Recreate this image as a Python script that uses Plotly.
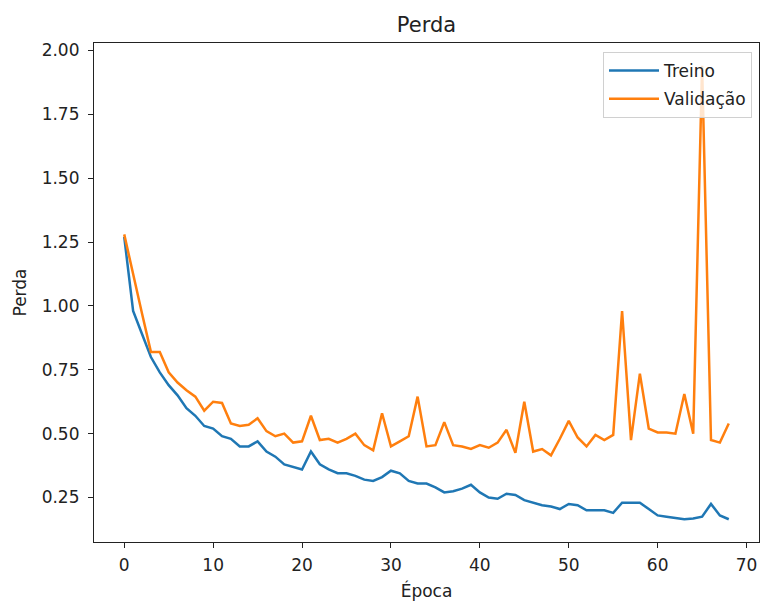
import plotly.graph_objects as go

epocas = list(range(69))
treino = [1.27, 0.98, 0.89, 0.80, 0.74, 0.69, 0.65, 0.60, 0.57, 0.53,
          0.52, 0.49, 0.48, 0.45, 0.45, 0.47, 0.43, 0.41, 0.38, 0.37,
          0.36, 0.43, 0.38, 0.36, 0.345, 0.345, 0.335, 0.32, 0.315, 0.33,
          0.355, 0.345, 0.315, 0.305, 0.305, 0.29, 0.27, 0.275, 0.285, 0.30,
          0.27, 0.25, 0.245, 0.265, 0.26, 0.24, 0.23, 0.22, 0.215, 0.205,
          0.225, 0.22, 0.20, 0.20, 0.20, 0.19, 0.23, 0.23, 0.23, 0.205,
          0.18, 0.175, 0.17, 0.165, 0.168, 0.175, 0.225, 0.18, 0.165]
validacao = [1.28, 1.12, 0.97, 0.82, 0.82, 0.74, 0.70, 0.67, 0.645, 0.59,
             0.625, 0.62, 0.54, 0.53, 0.535, 0.56, 0.51, 0.49, 0.50, 0.465,
             0.47, 0.57, 0.475, 0.48, 0.465, 0.48, 0.50, 0.455, 0.435, 0.58,
             0.45, 0.47, 0.49, 0.645, 0.45, 0.455, 0.545, 0.455, 0.45, 0.44,
             0.455, 0.445, 0.465, 0.515, 0.425, 0.625, 0.43, 0.44, 0.415, 0.48,
             0.55, 0.485, 0.45, 0.495, 0.475, 0.495, 0.98, 0.475, 0.735, 0.52,
             0.505, 0.505, 0.50, 0.655, 0.50, 1.94, 0.475, 0.465, 0.54]

font = "DejaVu Sans"
W, H = 760, 601
fig = go.Figure()
fig.add_trace(go.Scatter(x=epocas, y=treino, mode="lines", name="Treino",
                         legendgroup="a", line=dict(color="#1f77b4", width=2.5)))
fig.add_trace(go.Scatter(x=epocas, y=validacao, mode="lines", name="Validação",
                         legendgroup="b", line=dict(color="#ff7f0e", width=2.5)))

axis_common = dict(showline=True, linecolor="#222222", linewidth=1.2, mirror=True,
                   showgrid=False, zeroline=False, ticks="outside", ticklen=5,
                   tickwidth=1.2, tickcolor="#222222", automargin=False,
                   tickfont=dict(family=font, size=17, color="#222222"))
fig.update_layout(
    width=W, height=H,
    margin=dict(l=94, r=1, t=43, b=59),
    paper_bgcolor="white", plot_bgcolor="white",
    font=dict(family=font, size=17, color="#222222"),
    title=dict(text="Perda", x=0.5, xref="paper", xanchor="center",
               y=1 - 25 / H, yref="container", yanchor="middle",
               font=dict(family=font, size=21, color="#222222")),
    xaxis=dict(range=[-3.4, 71.4], dtick=10, tick0=0, ticklabelstandoff=2,
               title=dict(text="Época", standoff=14, font=dict(family=font, size=17)),
               **axis_common),
    yaxis=dict(range=[0.076, 2.029], dtick=0.25, tick0=0.25, tickformat=".2f",
               ticklabelstandoff=5,
               title=dict(text="Perda", standoff=10, font=dict(family=font, size=17)),
               **axis_common),
    showlegend=True,
    legend=dict(x=1 - 7 / 665, y=1 - 9 / 499, xanchor="right", yanchor="top",
                traceorder="grouped", tracegroupgap=3, itemwidth=50,
                bgcolor="rgba(255,255,255,0.8)", bordercolor="#d0d0d0", borderwidth=1,
                font=dict(family=font, size=17, color="#222222")),
)
fig.write_html("out.html", config={"displayModeBar": False},
               post_script="document.body.style.margin='0';document.body.style.overflow='hidden';")
